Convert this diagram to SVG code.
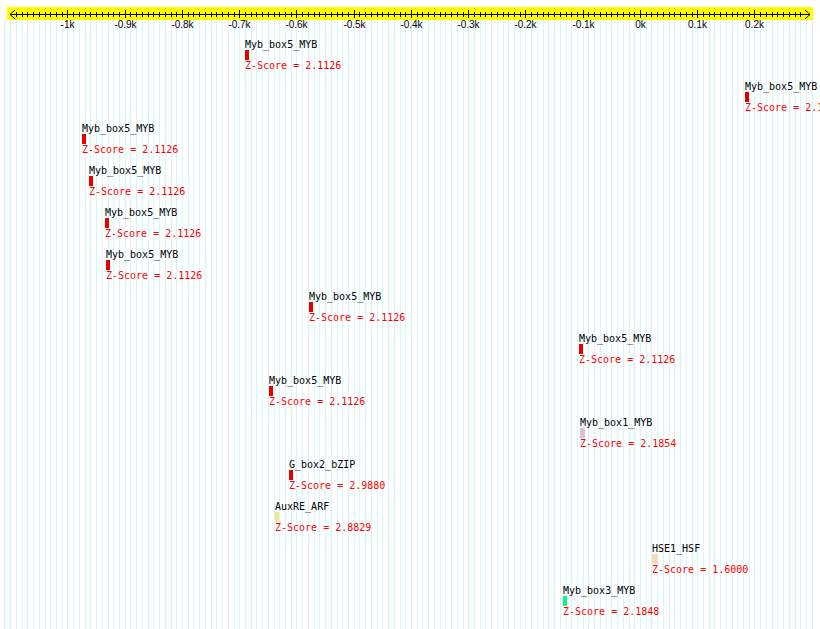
<svg xmlns="http://www.w3.org/2000/svg" width="820" height="629" viewBox="0 0 820 629">
<style>
.grid{stroke:#d2f7f7;stroke-width:1;fill:none}
.ax{stroke:#000;stroke-width:1;fill:none}
.rl{font-family:"Liberation Sans",Arial,sans-serif;font-size:10px;fill:#000;text-anchor:middle}
.nm{font-family:"DejaVu Sans Mono","Liberation Mono",monospace;font-size:10px;fill:#000}
.zs{font-family:"DejaVu Sans Mono","Liberation Mono",monospace;font-size:10px;fill:#f00}
.red{fill:#e60000}
</style>
<rect width="820" height="629" fill="#fff"/>
<path class="grid" d="M4.5 20v609M10.5 20v609M16.5 20v609M22.5 20v609M27.5 20v609M33.5 20v609M39.5 20v609M45.5 20v609M50.5 20v609M56.5 20v609M62.5 20v609M67.5 20v609M73.5 20v609M79.5 20v609M85.5 20v609M90.5 20v609M96.5 20v609M102.5 20v609M108.5 20v609M113.5 20v609M119.5 20v609M125.5 20v609M130.5 20v609M136.5 20v609M142.5 20v609M148.5 20v609M153.5 20v609M159.5 20v609M165.5 20v609M171.5 20v609M176.5 20v609M182.5 20v609M188.5 20v609M193.5 20v609M199.5 20v609M205.5 20v609M211.5 20v609M216.5 20v609M222.5 20v609M228.5 20v609M234.5 20v609M239.5 20v609M245.5 20v609M251.5 20v609M256.5 20v609M262.5 20v609M268.5 20v609M274.5 20v609M279.5 20v609M285.5 20v609M291.5 20v609M296.5 20v609M302.5 20v609M308.5 20v609M314.5 20v609M319.5 20v609M325.5 20v609M331.5 20v609M337.5 20v609M342.5 20v609M348.5 20v609M354.5 20v609M359.5 20v609M365.5 20v609M371.5 20v609M377.5 20v609M382.5 20v609M388.5 20v609M394.5 20v609M400.5 20v609M405.5 20v609M411.5 20v609M417.5 20v609M422.5 20v609M428.5 20v609M434.5 20v609M440.5 20v609M445.5 20v609M451.5 20v609M457.5 20v609M463.5 20v609M468.5 20v609M474.5 20v609M480.5 20v609M485.5 20v609M491.5 20v609M497.5 20v609M503.5 20v609M508.5 20v609M514.5 20v609M520.5 20v609M525.5 20v609M531.5 20v609M537.5 20v609M543.5 20v609M548.5 20v609M554.5 20v609M560.5 20v609M566.5 20v609M571.5 20v609M577.5 20v609M583.5 20v609M588.5 20v609M594.5 20v609M600.5 20v609M606.5 20v609M611.5 20v609M617.5 20v609M623.5 20v609M629.5 20v609M634.5 20v609M640.5 20v609M646.5 20v609M651.5 20v609M657.5 20v609M663.5 20v609M669.5 20v609M674.5 20v609M680.5 20v609M686.5 20v609M692.5 20v609M697.5 20v609M703.5 20v609M709.5 20v609M714.5 20v609M720.5 20v609M726.5 20v609M732.5 20v609M737.5 20v609M743.5 20v609M749.5 20v609M754.5 20v609M760.5 20v609M766.5 20v609M772.5 20v609M777.5 20v609M783.5 20v609M789.5 20v609M795.5 20v609M800.5 20v609M806.5 20v609M812.5 20v609"/>
<g id="ruler">
<rect x="7" y="7" width="806" height="13" fill="#ff0"/>
<path class="ax" d="M10 14.5H810M15 10L10 14.5L15 19M805 10L810 14.5L805 19"/>
<path class="ax" d="M16.5 12v5M22.5 12v5M27.5 12v5M33.5 12v5M39.5 12v5M45.5 12v5M50.5 12v5M56.5 12v5M62.5 12v5M73.5 12v5M79.5 12v5M85.5 12v5M90.5 12v5M96.5 12v5M102.5 12v5M108.5 12v5M113.5 12v5M119.5 12v5M130.5 12v5M136.5 12v5M142.5 12v5M148.5 12v5M153.5 12v5M159.5 12v5M165.5 12v5M171.5 12v5M176.5 12v5M188.5 12v5M193.5 12v5M199.5 12v5M205.5 12v5M211.5 12v5M216.5 12v5M222.5 12v5M228.5 12v5M234.5 12v5M245.5 12v5M251.5 12v5M256.5 12v5M262.5 12v5M268.5 12v5M274.5 12v5M279.5 12v5M285.5 12v5M291.5 12v5M302.5 12v5M308.5 12v5M314.5 12v5M319.5 12v5M325.5 12v5M331.5 12v5M337.5 12v5M342.5 12v5M348.5 12v5M359.5 12v5M365.5 12v5M371.5 12v5M377.5 12v5M382.5 12v5M388.5 12v5M394.5 12v5M400.5 12v5M405.5 12v5M417.5 12v5M422.5 12v5M428.5 12v5M434.5 12v5M440.5 12v5M445.5 12v5M451.5 12v5M457.5 12v5M463.5 12v5M474.5 12v5M480.5 12v5M485.5 12v5M491.5 12v5M497.5 12v5M503.5 12v5M508.5 12v5M514.5 12v5M520.5 12v5M531.5 12v5M537.5 12v5M543.5 12v5M548.5 12v5M554.5 12v5M560.5 12v5M566.5 12v5M571.5 12v5M577.5 12v5M588.5 12v5M594.5 12v5M600.5 12v5M606.5 12v5M611.5 12v5M617.5 12v5M623.5 12v5M629.5 12v5M634.5 12v5M646.5 12v5M651.5 12v5M657.5 12v5M663.5 12v5M669.5 12v5M674.5 12v5M680.5 12v5M686.5 12v5M692.5 12v5M703.5 12v5M709.5 12v5M714.5 12v5M720.5 12v5M726.5 12v5M732.5 12v5M737.5 12v5M743.5 12v5M749.5 12v5M760.5 12v5M766.5 12v5M772.5 12v5M777.5 12v5M783.5 12v5M789.5 12v5M795.5 12v5M800.5 12v5"/>
<path class="ax" d="M67.5 10v8M125.5 10v8M182.5 10v8M239.5 10v8M296.5 10v8M354.5 10v8M411.5 10v8M468.5 10v8M525.5 10v8M583.5 10v8M640.5 10v8M697.5 10v8M754.5 10v8"/>
<text class="rl" x="67.5" y="28">-1k</text>
<text class="rl" x="125.5" y="28">-0.9k</text>
<text class="rl" x="182.5" y="28">-0.8k</text>
<text class="rl" x="239.5" y="28">-0.7k</text>
<text class="rl" x="296.5" y="28">-0.6k</text>
<text class="rl" x="354.5" y="28">-0.5k</text>
<text class="rl" x="411.5" y="28">-0.4k</text>
<text class="rl" x="468.5" y="28">-0.3k</text>
<text class="rl" x="525.5" y="28">-0.2k</text>
<text class="rl" x="583.5" y="28">-0.1k</text>
<text class="rl" x="640.5" y="28">0k</text>
<text class="rl" x="697.5" y="28">0.1k</text>
<text class="rl" x="754.5" y="28">0.2k</text>
</g>
<g id="connectors"></g>
<g id="f1"><text class="nm" x="245" y="48">Myb_box5_MYB</text><rect class="red" x="245" y="50" width="4" height="10"/><text class="zs" x="245" y="69">Z-Score = 2.1126</text></g>
<g id="f2"><text class="nm" x="745" y="90">Myb_box5_MYB</text><rect class="red" x="745" y="92" width="4" height="10"/><text class="zs" x="745" y="111">Z-Score = 2.1126</text></g>
<g id="f3"><text class="nm" x="82" y="132">Myb_box5_MYB</text><rect class="red" x="82" y="134" width="4" height="10"/><text class="zs" x="82" y="153">Z-Score = 2.1126</text></g>
<g id="f4"><text class="nm" x="89" y="174">Myb_box5_MYB</text><rect class="red" x="89" y="176" width="4" height="10"/><text class="zs" x="89" y="195">Z-Score = 2.1126</text></g>
<g id="f5"><text class="nm" x="105" y="216">Myb_box5_MYB</text><rect class="red" x="105" y="218" width="4" height="10"/><text class="zs" x="105" y="237">Z-Score = 2.1126</text></g>
<g id="f6"><text class="nm" x="106" y="258">Myb_box5_MYB</text><rect class="red" x="106" y="260" width="4" height="10"/><text class="zs" x="106" y="279">Z-Score = 2.1126</text></g>
<g id="f7"><text class="nm" x="309" y="300">Myb_box5_MYB</text><rect class="red" x="309" y="302" width="4" height="10"/><text class="zs" x="309" y="321">Z-Score = 2.1126</text></g>
<g id="f8"><text class="nm" x="579" y="342">Myb_box5_MYB</text><rect class="red" x="579" y="344" width="4" height="10"/><text class="zs" x="579" y="363">Z-Score = 2.1126</text></g>
<g id="f9"><text class="nm" x="269" y="384">Myb_box5_MYB</text><rect class="red" x="269" y="386" width="4" height="10"/><text class="zs" x="269" y="405">Z-Score = 2.1126</text></g>
<g id="f10"><text class="nm" x="580" y="426">Myb_box1_MYB</text><rect x="580" y="428" width="5" height="10" fill="#d8bfd8"/><text class="zs" x="580" y="447">Z-Score = 2.1854</text></g>
<g id="f11"><text class="nm" x="289" y="468">G_box2_bZIP</text><rect class="red" x="289" y="470" width="4" height="10"/><text class="zs" x="289" y="489">Z-Score = 2.9880</text></g>
<g id="f12"><text class="nm" x="275" y="510">AuxRE_ARF</text><rect x="275" y="512" width="4" height="10" fill="#f0e68c"/><text class="zs" x="275" y="531">Z-Score = 2.8829</text></g>
<g id="f13"><text class="nm" x="652" y="552">HSE1_HSF</text><rect x="652" y="554" width="6" height="10" fill="#f5deb3"/><text class="zs" x="652" y="573">Z-Score = 1.6000</text></g>
<g id="f14"><text class="nm" x="563" y="594">Myb_box3_MYB</text><rect x="563" y="596" width="4" height="10" fill="#00ff7f"/><text class="zs" x="563" y="615">Z-Score = 2.1848</text></g>
</svg>
